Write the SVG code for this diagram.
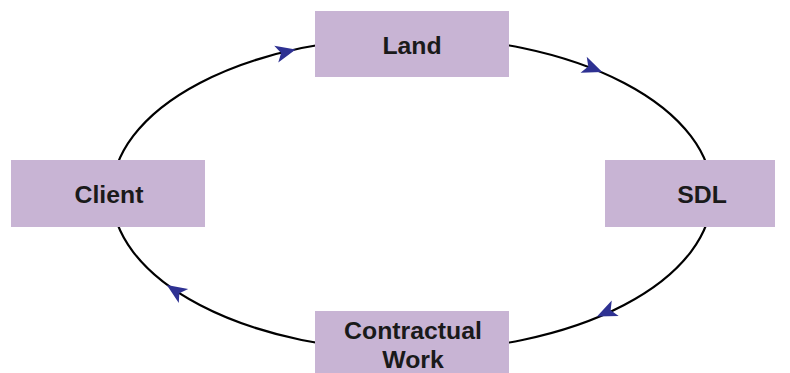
<svg xmlns="http://www.w3.org/2000/svg" width="790" height="373" viewBox="0 0 790 373">
<style>
.box{fill:#c8b4d4;}
.lbl{font-family:"Liberation Sans",Arial,sans-serif;font-weight:bold;font-size:24.8px;fill:#1a1a1a;text-anchor:middle;}
.conn{fill:none;stroke:#000;stroke-width:2.2;}
.ah{fill:#2e3192;}
</style>
<defs>
<path id="arrow" class="ah" d="M11,0 L-9,-8.5 L-4,0 L-9,8.5 Z"/>
</defs>
<rect width="790" height="373" fill="#fff"/>
<g id="connectors">
<ellipse class="conn" cx="412" cy="194" rx="300" ry="157"/>
<use href="#arrow" transform="translate(285,52) rotate(-13.7)"/>
<use href="#arrow" transform="translate(592,68) rotate(21.4)"/>
<use href="#arrow" transform="translate(607,312) rotate(155.9)"/>
<use href="#arrow" transform="translate(176,291) rotate(-146.3)"/>
</g>
<g id="land">
<rect class="box" x="315" y="11" width="194" height="66"/>
<text class="lbl" x="412" y="54">Land</text>
</g>
<g id="client">
<rect class="box" x="11" y="160" width="194" height="67"/>
<text class="lbl" x="109" y="203">Client</text>
</g>
<g id="sdl">
<rect class="box" x="605" y="160" width="170" height="67"/>
<text class="lbl" x="702" y="203">SDL</text>
</g>
<g id="contractual-work">
<rect class="box" x="315" y="311" width="194" height="62"/>
<text class="lbl" x="413" y="339">Contractual</text>
<text class="lbl" x="413" y="368">Work</text>
</g>
</svg>
